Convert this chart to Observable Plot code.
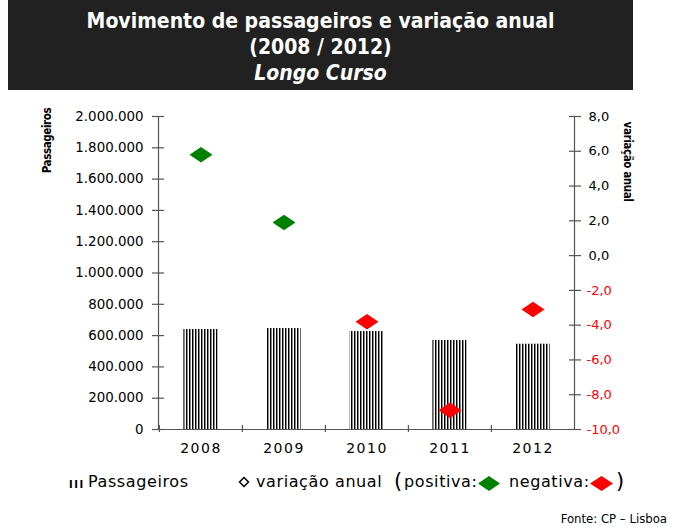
<!DOCTYPE html>
<html><head><meta charset="utf-8">
<script src="https://cdn.jsdelivr.net/npm/d3@7"></script>
<script src="https://cdn.jsdelivr.net/npm/@observablehq/plot@0.6"></script>
<style>
body{margin:0;background:#fff;width:678px;height:528px;position:relative;overflow:hidden;font-family:"DejaVu Sans",sans-serif;color:#000;}
#title{position:absolute;left:8px;top:0;width:625px;height:90px;background:#212121;color:#fff;font-family:"DejaVu Sans Condensed","DejaVu Sans",sans-serif;font-weight:bold;font-size:21px;line-height:26px;text-align:center;box-sizing:border-box;padding-top:8px;}
#title i{font-style:italic;}
#chart{position:absolute;left:0;top:95px;}
.leg{position:absolute;top:473px;font-size:16px;line-height:18px;letter-spacing:0.6px;white-space:nowrap;}
.sym{position:absolute;}
#fonte{position:absolute;right:11px;top:511px;font-family:"DejaVu Sans Condensed","DejaVu Sans",sans-serif;font-size:13px;line-height:16px;white-space:nowrap;}
</style></head>
<body>
<div id="title">Movimento de passageiros e variação anual<br>(2008 / 2012)<br><i>Longo Curso</i></div>
<div id="chart"></div>
<div class="leg" style="left:69px;top:476px;font-size:10px;font-weight:bold;letter-spacing:1.5px;">III</div>
<div class="leg" style="left:88px;">Passageiros</div>
<svg class="sym" style="left:238px;top:476px" width="12" height="12"><path d="M6,1.5L10.5,6L6,10.5L1.5,6Z" fill="none" stroke="#000" stroke-width="1.5"/></svg>
<div class="leg" style="left:256px;">variação anual</div>
<div class="leg" style="left:394px;top:469px;font-size:21px;line-height:24px;">(</div>
<div class="leg" style="left:404px;">positiva:</div>
<svg class="sym" style="left:478px;top:476px" width="22" height="15"><path d="M11,0L22,7.5L11,15L0,7.5Z" fill="#008000"/></svg>
<div class="leg" style="left:509px;">negativa:</div>
<svg class="sym" style="left:590px;top:476px" width="23" height="15"><path d="M11.5,0L23,7.5L11.5,15L0,7.5Z" fill="#ff0000"/></svg>
<div class="leg" style="left:616px;top:469px;font-size:21px;line-height:24px;">)</div>
<div id="fonte">Fonte: CP – Lisboa</div>
<script>
const years = ["2008", "2009", "2010", "2011", "2012"];
const passageiros = [639000, 645000, 626000, 569000, 545000];
const variacao = [5.8, 1.9, -3.8, -8.9, -3.1];
const leftTicks = [0, 200000, 400000, 600000, 800000, 1000000, 1200000, 1400000, 1600000, 1800000, 2000000];
const rightTicksPos = [0, 2, 4, 6, 8];
const rightTicksNeg = [-2, -4, -6, -8, -10];
const rightDomain = [-10, 8];
const leftDomain = [0, 2000000];

const data = years.map((y, i) => ({year: y, pass: passageiros[i], vari: variacao[i]}));
// map the right-axis value onto the left (passengers) scale domain
const toY = v => (v - rightDomain[0]) / (rightDomain[1] - rightDomain[0]) * (leftDomain[1] - leftDomain[0]) + leftDomain[0];
const fromY = y => (y - leftDomain[0]) / (leftDomain[1] - leftDomain[0]) * (rightDomain[1] - rightDomain[0]) + rightDomain[0];

const ptLocale = d3.formatLocale({decimal: ",", thousands: ".", grouping: [3], currency: ["", ""], minus: "-"});
const fmtLeft = ptLocale.format(",.0f");
const fmtRight = ptLocale.format(".1f");

const W = 678, H = 365, mL = 158, mR = 104, mT = 21, mB = 31;
const bw = (W - mL - mR) / years.length;

const diamond = {
  draw(context, size) {
    const w = 11.5, h = 7.8;
    context.moveTo(0, -h); context.lineTo(w, 0); context.lineTo(0, h); context.lineTo(-w, 0); context.closePath();
  }
};
const axisGray = "#555";

const plot = Plot.plot({
  width: W, height: H,
  marginLeft: mL, marginRight: mR, marginTop: mT, marginBottom: mB,
  style: {fontFamily: "DejaVu Sans", fontSize: "13px", color: "#000", background: "transparent", overflow: "visible"},
  x: {domain: years, padding: 0, label: null},
  y: {domain: leftDomain, label: null},
  marks: [
    Plot.barY(data, {x: "year", y: "pass", fill: "url(#stripes)", insetLeft: 24.4, insetRight: 24.4}),
    Plot.ruleY([0], {stroke: axisGray, strokeWidth: 1.2}),
    Plot.frame({anchor: "left", stroke: axisGray, strokeWidth: 1.2}),
    Plot.frame({anchor: "right", stroke: axisGray, strokeWidth: 1.2}),
    // left axis
    Plot.axisY(leftTicks, {anchor: "left", tickSize: 12, dx: 6, fill: "none", stroke: axisGray, strokeWidth: 1.2, label: null}),
    Plot.axisY(leftTicks, {anchor: "left", tickSize: 0, tickPadding: 15, stroke: "none", fill: "#000", tickFormat: fmtLeft, fontSize: 13.4, label: null}),
    // right axis
    Plot.axisY([...rightTicksPos, ...rightTicksNeg].map(toY), {anchor: "right", tickSize: 12, dx: -6, fill: "none", stroke: axisGray, strokeWidth: 1.2, label: null}),
    Plot.axisY(rightTicksPos.map(toY), {anchor: "right", tickSize: 0, tickPadding: 14, stroke: "none", fill: "#000", tickFormat: d => fmtRight(fromY(d)), fontSize: 13, label: null}),
    Plot.axisY(rightTicksNeg.map(toY), {anchor: "right", tickSize: 0, tickPadding: 12, stroke: "none", fill: "#ff0000", tickFormat: d => fmtRight(fromY(d)), fontSize: 13, label: null}),
    // x axis
    Plot.axisX(years, {anchor: "bottom", tickSize: 7, dy: -4, dx: -bw / 2, fill: "none", stroke: axisGray, strokeWidth: 1.2, label: null}),
    Plot.axisX(years, {anchor: "bottom", tickSize: 0, tickPadding: 14, stroke: "none", fill: "#000", fontSize: 14, label: null}),
    // axis titles
    Plot.text(["Passageiros"], {frameAnchor: "top-left", textAnchor: "middle", lineAnchor: "middle", dx: -111, dy: 24, rotate: -90, fontWeight: "bold", fontSize: 11.5, fontFamily: "DejaVu Sans Condensed"}),
    Plot.text(["variação anual"], {frameAnchor: "top-right", textAnchor: "middle", lineAnchor: "middle", dx: 53, dy: 45, rotate: 90, fontWeight: "bold", fontSize: 11.5, fontFamily: "DejaVu Sans Condensed"}),
    // variation diamonds
    Plot.dot(data.filter(d => d.vari >= 0), {x: "year", y: d => toY(d.vari), symbol: diamond, fill: "#008000", stroke: "none"}),
    Plot.dot(data.filter(d => d.vari < 0), {x: "year", y: d => toY(d.vari), symbol: diamond, fill: "#ff0000", stroke: "none"})
  ]
});

d3.select(plot).insert("defs", ":first-child").html(
  '<pattern id="stripes" patternUnits="userSpaceOnUse" x="0" y="0" width="3" height="10">' +
  '<rect x="0" y="0" width="3" height="10" fill="#fff"/>' +
  '<rect x="0" y="0" width="1.2" height="10" fill="#000"/>' +
  '<rect x="1.2" y="0" width="0.8" height="10" fill="#777"/>' +
  '</pattern>'
);
d3.select(plot).selectAll('g[aria-label="x-axis tick label"] text').style("letter-spacing", "1.5px");
d3.select(plot).selectAll('g[aria-label="text"] text').style("letter-spacing", "-0.4px");
document.getElementById("chart").appendChild(plot);
</script>
</body></html>
